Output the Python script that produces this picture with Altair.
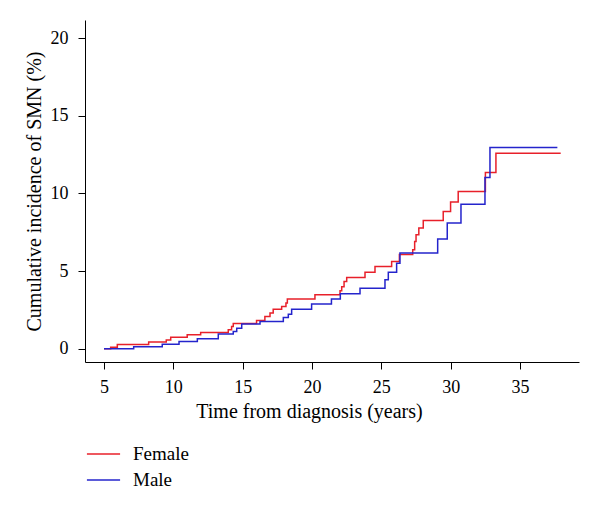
import altair as alt
import pandas as pd

# Step points (time in years, cumulative incidence %)
female_t = [5.0, 5.48, 5.96, 8.22, 9.49, 9.81, 11.0, 11.97, 13.96, 14.2, 14.32, 16.0, 16.6,
            16.97, 17.2, 17.81, 18.12, 18.22, 20.21, 22.02, 22.14, 22.31, 22.5, 23.82, 24.54,
            25.74, 26.3, 27.26, 27.4, 27.5, 27.7, 28.02, 29.46, 29.99, 30.54, 32.5, 33.26, 37.93]
female_v = [0.0, 0.1, 0.28, 0.43, 0.56, 0.75, 0.9, 1.05, 1.22, 1.44, 1.63, 1.82, 2.08,
            2.3, 2.55, 2.72, 2.94, 3.2, 3.47, 3.73, 4.0, 4.33, 4.59, 4.93, 5.3,
            5.62, 6.07, 6.37, 6.9, 7.34, 7.77, 8.26, 8.84, 9.44, 10.12, 11.35, 12.59, 12.59]

male_t = [5.0, 7.14, 9.2, 10.41, 11.73, 13.24, 14.32, 14.57, 14.93, 16.25, 17.93, 18.29, 18.53,
          19.97, 21.4, 22.04, 23.46, 25.26, 25.5, 26.1, 26.34, 29.06, 29.75, 30.74, 32.47,
          32.83, 37.69]
male_v = [0.0, 0.13, 0.3, 0.47, 0.64, 0.95, 1.12, 1.33, 1.59, 1.76, 2.02, 2.23, 2.55,
          2.88, 3.2, 3.54, 3.9, 4.44, 4.93, 5.51, 6.16, 7.06, 8.09, 9.31, 11.02,
          12.95, 12.95]

groups = ["Female", "Male"]
colors = ["#e8202a", "#2424cc"]
x_ticks = [5, 10, 15, 20, 25, 30, 35]
y_ticks = [0, 5, 10, 15, 20]

rows = []
for t, v in zip(female_t, female_v):
    rows.append({"time": t, "inc": v, "sex": "Female", "o": 0})
for t, v in zip(male_t, male_v):
    rows.append({"time": t, "inc": v, "sex": "Male", "o": 1})
df = pd.DataFrame(rows)

FONT = "Liberation Serif"

chart = alt.Chart(df).mark_line(interpolate="step-after", strokeWidth=1.5).encode(
    x=alt.X("time:Q",
            scale=alt.Scale(domain=[3.63, 39.25], nice=False, zero=False),
            axis=alt.Axis(values=x_ticks, title="Time from diagnosis (years)",
                          grid=False, tickSize=7, labelPadding=9, titlePadding=5,
                          titleX=224, titleAlign="center")),
    y=alt.Y("inc:Q",
            scale=alt.Scale(domain=[-0.85, 21.16], nice=False, zero=False),
            axis=alt.Axis(values=y_ticks, title="Cumulative incidence of SMN (%)",
                          grid=False, tickSize=7, labelPadding=10, titlePadding=6)),
    color=alt.Color("sex:N", scale=alt.Scale(domain=groups, range=colors),
                    legend=alt.Legend(title=None, orient="none", legendX=1, legendY=422,
                                      symbolType="stroke", symbolSize=1100,
                                      symbolStrokeWidth=1.5, labelFontSize=19,
                                      labelFont=FONT, labelColor="black",
                                      clipHeight=24, rowPadding=2, labelOffset=12)),
    order="o:Q",
).properties(
    width=494,
    height=342,
    autosize=alt.AutoSizeParams(type="none"),
    padding={"left": 77, "top": 12, "right": 10, "bottom": 140},
).configure_view(stroke=None).configure_axis(
    domainColor="black", domainWidth=1, tickColor="black", tickWidth=1,
    labelFont=FONT, titleFont=FONT, labelFontSize=18, titleFontSize=20,
    labelColor="black", titleColor="black", titleFontWeight="normal",
)

chart.save("out.html", embed_options={"renderer": "svg", "actions": False})
